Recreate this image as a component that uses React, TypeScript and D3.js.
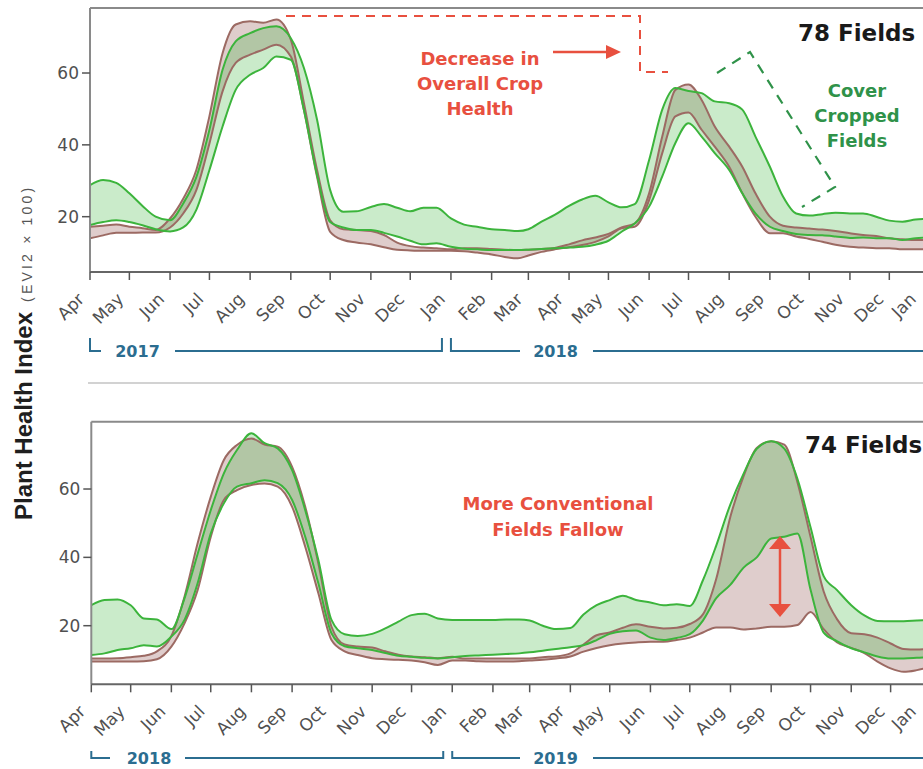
import React, { useEffect, useRef } from "react";
import * as d3 from "d3";

const W = 923;
const H = 769;

// EVI2 x 100, sampled on the 1st, 11th and 21st of each month (Apr -> Dec of the next year), then Jan 1
const topGreenUpper = [
  28.8, 30.2, 29.4, 26.5, 23, 20, 19, 23.7, 31, 44.2,
  60.9, 68.8, 71.1, 72.5, 73, 69.7, 61.4, 47, 27.4, 21.4,
  21.5, 22.7, 23.5, 22.5, 21.5, 22.5, 22.5, 19.5, 17.8, 17.2,
  16.5, 16.3, 16, 16.5, 18.6, 20.5, 23, 24.8, 25.8, 24,
  22.6, 23.5, 35.8, 49.8, 55.8, 55, 54.4, 52.1, 51.6, 49.8,
  42.3, 33.9, 25.6, 20.9, 20.3, 20.7, 21.1, 20.9, 20.9, 20,
  18.9, 18.6, 19.2, 19.5,
];
const topGreenLower = [
  17.7, 18.5, 19, 18.5, 17.6, 16.5, 15.9, 17, 21.9, 33,
  45.1, 55.3, 59.5, 61.4, 64.6, 63.7, 49.7, 31.6, 18.5, 17,
  16.3, 16.3, 15.5, 14.5, 13.3, 12.3, 12.6, 11.6, 11.1, 10.9,
  10.7, 10.7, 10.7, 10.8, 11, 11.2, 11.4, 11.6, 12.2, 13.3,
  15.8, 18.1, 22.8, 31.2, 40.5, 46, 42.3, 37.7, 33, 26.5,
  20.9, 17.2, 16, 15.2, 14.9, 14.8, 14.5, 14.1, 14.2, 14,
  14, 13.5, 14, 14.2,
];
const topBrownUpper = [
  17.2, 17.5, 17.8, 17.2, 16.8, 16.3, 19.5, 25, 33, 48,
  65.5, 73.5, 74.4, 74, 74.9, 69.3, 51.6, 33, 19, 16.5,
  16.3, 16, 14.9, 12.8, 11.8, 11.4, 11.2, 10.9, 11.2, 11.2,
  11, 10.8, 10.7, 10.8, 11, 11.3, 12.3, 13.4, 14.2, 15.2,
  17, 18.1, 26.5, 42.3, 55.3, 56.8, 52.5, 45.1, 39.5, 33.9,
  26.5, 20, 17.5, 17, 16.7, 16.4, 16, 15.4, 14.9, 14.6,
  14, 13.7, 13.5, 13.5,
];
const topBrownLower = [
  14, 14.8, 15.5, 15.5, 15.6, 15.6, 17, 20.9, 27.4, 40.4,
  54.9, 62.8, 65.1, 66.5, 67.9, 64.6, 49.7, 31.1, 15.8, 13.5,
  12.8, 12.3, 11.5, 10.8, 10.6, 10.5, 10.5, 10.5, 10.4, 10,
  9.5, 8.8, 8.4, 9.2, 10.2, 10.9, 11.5, 12.1, 13, 14.5,
  16.8, 17.2, 24.6, 37.7, 47.9, 49, 44.2, 39.5, 33.9, 26.5,
  20, 15.4, 15.4, 14.5, 13.8, 13, 12.2, 11.6, 11.4, 11.2,
  11.2, 10.9, 10.9, 10.9,
];

const bottomGreenUpper = [
  26, 27.5, 27.7, 26, 22.1, 21.8, 19, 28, 41, 53.8,
  64.6, 71.4, 76.3, 73.4, 71.9, 65.5, 53.8, 39.2, 21.7, 17.5,
  17, 17.6, 19.2, 21.2, 23.1, 23.5, 22.1, 21.7, 21.7, 21.7,
  21.7, 21.8, 21.8, 21.5, 20, 19, 19.3, 23.3, 26, 27.5,
  28.8, 27.5, 26.8, 26, 26.3, 25.8, 33.3, 43.3, 55.6, 64.5,
  71.8, 74, 71.8, 63, 48.8, 34.5, 30.5, 26, 23, 21.4,
  21.3, 21.3, 21.5, 21.7,
];
const bottomGreenLower = [
  11.4, 11.9, 12.9, 13.4, 14.3, 13.9, 16.8, 21.7, 32.4, 47,
  55.8, 60.7, 61.7, 62.6, 61.7, 56.8, 46, 32.4, 17.8, 14,
  13.4, 12.9, 12, 11.2, 10.9, 10.6, 10.4, 10.8, 11.1, 11.3,
  11.5, 11.7, 11.9, 12.2, 12.7, 13.2, 13.7, 14.3, 15.8, 17.6,
  18.4, 18.6, 16.5, 15.8, 16.4, 17.5, 21.5, 28, 32, 37,
  40, 45.5, 46, 47, 30.5, 18, 15.5, 13.4, 12.2, 11,
  10.4, 10.4, 10.6, 10.9,
];
const bottomBrownUpper = [
  10.4, 10.4, 10.5, 10.8, 11.2, 12.5, 17, 28.5, 44.1, 57.7,
  68.5, 72.9, 74.8, 73, 72.4, 66.5, 54.8, 38.2, 19.7, 14.5,
  13.9, 13.6, 12.5, 11.5, 11, 10.8, 10.5, 10.9, 10.4, 10.4,
  10.4, 10.4, 10.4, 10.4, 10.8, 11, 11.9, 14.5, 17.2, 18,
  19.4, 20.4, 19.7, 19.2, 19.4, 20.5, 23.3, 33.5, 52, 63.8,
  72, 74, 73, 62, 46, 30, 22, 17.8, 17.5, 16.5,
  14.8, 13.2, 13, 13.4,
];
const bottomBrownLower = [
  9.5, 9.5, 9.5, 9.5, 9.6, 10.2, 13.9, 20.7, 30.4, 46,
  56.8, 59.7, 61.2, 61.6, 60.7, 54.8, 43.1, 29.5, 15.8, 12.5,
  11.4, 10.5, 10.2, 10, 9.8, 9.3, 8.5, 9.8, 9.8, 9.6,
  9.5, 9.5, 9.6, 9.8, 10, 10.4, 11, 12.4, 13.5, 14.3,
  14.8, 15.1, 15.3, 15.3, 15.8, 16.5, 18, 19.5, 19.5, 18.9,
  19.2, 19.7, 19.7, 20.2, 24, 19, 15.2, 13.5, 12, 9.5,
  7.5, 6.5, 7, 8,
];

const yTicks = [20, 40, 60];

const GREEN = "#3cb43c";
const BROWN = "#9c6a63";
const RED = "#e8503f";
const DARK_GREEN = "#2f9249";
const BLUE = "#2b6d90";
const FONT = "'DejaVu Sans', sans-serif";

const panels = [
  {
    start: new Date(2017, 3, 1),
    xRange: [90, 930],
    top: 8,
    bottom: 272,
    yDomain: [4.6, 78.1],
    greenUpper: topGreenUpper,
    greenLower: topGreenLower,
    brownUpper: topBrownUpper,
    brownLower: topBrownLower,
    fields: "78 Fields",
    fieldsAt: [798, 41],
    years: ["2017", "2018"],
    yearY: 351,
    bracketH: 13,
    firstYear: { tail: 101, text: 137.5, line: 175 },
  },
  {
    start: new Date(2018, 3, 1),
    xRange: [91.3, 931.3],
    top: 421.7,
    bottom: 684.3,
    yDomain: [2.85, 79.7],
    greenUpper: bottomGreenUpper,
    greenLower: bottomGreenLower,
    brownUpper: bottomBrownUpper,
    brownLower: bottomBrownLower,
    fields: "74 Fields",
    fieldsAt: [805, 453],
    years: ["2018", "2019"],
    yearY: 758,
    bracketH: 7,
    firstYear: { tail: 110, text: 149, line: 185 },
  },
];

const sampleDates = (start) => {
  const end = d3.timeMonth.offset(start, 21);
  const dates = d3
    .timeMonth.range(start, end)
    .flatMap((m) => [0, 10, 20].map((d) => d3.timeDay.offset(m, d)));
  dates.push(end);
  return dates;
};

const addText = (g, lines, cx, baselines, color, size) => {
  lines.forEach((t, i) => {
    g.append("text")
      .attr("x", cx)
      .attr("y", baselines[i])
      .attr("text-anchor", "middle")
      .attr("font-family", FONT)
      .attr("font-weight", "bold")
      .attr("font-size", size)
      .attr("fill", color)
      .text(t);
  });
};

const App = () => {
  const svgRef = useRef(null);

  useEffect(() => {
    const svg = d3.select(svgRef.current);
    svg.selectAll("*").remove();
    const defs = svg.append("defs");

    panels.forEach((p, i) => {
      const end = d3.timeMonth.offset(p.start, 21);
      const x = d3.scaleTime().domain([p.start, end]).range(p.xRange);
      const y = d3.scaleLinear().domain(p.yDomain).range([p.bottom, p.top]);
      const dates = sampleDates(p.start);
      const left = p.xRange[0];

      defs
        .append("clipPath")
        .attr("id", `clip-${i}`)
        .append("rect")
        .attr("x", left)
        .attr("y", p.top)
        .attr("width", W - left)
        .attr("height", p.bottom - p.top);

      const g = svg.append("g").attr("clip-path", `url(#clip-${i})`);

      const band = (upper, lower) =>
        d3
          .area()
          .x((_, j) => x(dates[j]))
          .y0((_, j) => y(lower[j]))
          .y1((d) => y(d))
          .curve(d3.curveMonotoneX)(upper);

      const line = d3
        .line()
        .x((_, j) => x(dates[j]))
        .y((d) => y(d))
        .curve(d3.curveMonotoneX);

      // brown band first, green band over it -> olive where they overlap
      g.append("path")
        .attr("d", band(p.brownUpper, p.brownLower))
        .attr("fill", "rgba(150,90,85,0.3)");
      g.append("path")
        .attr("d", band(p.greenUpper, p.greenLower))
        .attr("fill", "rgba(60,180,60,0.27)");

      [p.brownUpper, p.brownLower].forEach((s) =>
        g.append("path")
          .attr("d", line(s))
          .attr("fill", "none")
          .attr("stroke", BROWN)
          .attr("stroke-width", 2)
      );
      [p.greenUpper, p.greenLower].forEach((s) =>
        g.append("path")
          .attr("d", line(s))
          .attr("fill", "none")
          .attr("stroke", GREEN)
          .attr("stroke-width", 2)
      );

      // frame
      svg.append("line")
        .attr("x1", left).attr("x2", W).attr("y1", p.top).attr("y2", p.top)
        .attr("stroke", "#8a8a8a").attr("stroke-width", 2);
      svg.append("line")
        .attr("x1", left).attr("x2", left).attr("y1", p.top).attr("y2", p.bottom)
        .attr("stroke", "#8a8a8a").attr("stroke-width", 2);
      svg.append("line")
        .attr("x1", left).attr("x2", W).attr("y1", p.bottom).attr("y2", p.bottom)
        .attr("stroke", "#666").attr("stroke-width", 2);

      // x axis: monthly ticks, rotated labels
      const months = d3
        .timeMonth.range(p.start, d3.timeMonth.offset(p.start, 22))
        .filter((m) => x(m) <= W + 12);
      const xa = svg.append("g");
      months.forEach((m) => {
        const tx = x(m);
        xa.append("line")
          .attr("x1", tx).attr("x2", tx)
          .attr("y1", p.bottom).attr("y2", p.bottom + 8)
          .attr("stroke", "#555").attr("stroke-width", 1.5);
        xa.append("text")
          .attr("transform", `translate(${Math.min(tx - 9, W - 10)},${p.bottom + 24}) rotate(-45)`)
          .attr("text-anchor", "end")
          .attr("dy", "0.35em")
          .attr("font-family", FONT)
          .attr("font-size", 17)
          .attr("fill", "#505050")
          .text(d3.timeFormat("%b")(m));
      });

      // y axis
      const ya = svg.append("g");
      yTicks.forEach((v) => {
        ya.append("line")
          .attr("x1", left - 8).attr("x2", left)
          .attr("y1", y(v)).attr("y2", y(v))
          .attr("stroke", "#555").attr("stroke-width", 1.5);
        ya.append("text")
          .attr("x", left - 11)
          .attr("y", y(v))
          .attr("dy", "0.35em")
          .attr("text-anchor", "end")
          .attr("font-family", FONT)
          .attr("font-size", 17)
          .attr("fill", "#505050")
          .text(v);
      });

      // year brackets
      const yb = svg.append("g").attr("stroke", BLUE).attr("stroke-width", 2).attr("fill", "none");
      const jan = x(d3.timeYear.ceil(p.start));
      const yy = p.yearY;
      yb.append("path").attr("d", `M${left},${yy - p.bracketH}V${yy}H${p.firstYear.tail}`);
      yb.append("path").attr("d", `M${p.firstYear.line},${yy}H${jan - 9}V${yy - p.bracketH}`);
      yb.append("path").attr("d", `M${jan},${yy - p.bracketH}V${yy}H520`);
      yb.append("path").attr("d", `M593,${yy}H${W}`);
      [p.firstYear.text, 555.5].forEach((cx, k) => {
        svg.append("text")
          .attr("x", cx)
          .attr("y", yy)
          .attr("dy", "0.36em")
          .attr("text-anchor", "middle")
          .attr("font-family", FONT)
          .attr("font-weight", "bold")
          .attr("font-size", 16)
          .attr("fill", BLUE)
          .text(p.years[k]);
      });

      svg.append("text")
        .attr("x", p.fieldsAt[0])
        .attr("y", p.fieldsAt[1])
        .attr("font-family", FONT)
        .attr("font-weight", "bold")
        .attr("font-size", 23)
        .attr("fill", "#1a1a1a")
        .text(p.fields);
    });

    // separator between the two panels
    svg.append("line")
      .attr("x1", 88).attr("x2", W).attr("y1", 383).attr("y2", 383)
      .attr("stroke", "#d2d2d2").attr("stroke-width", 2);

    // top panel annotations
    const ann = svg.append("g");
    ann.append("path")
      .attr("d", "M286,16H640V72H668")
      .attr("fill", "none").attr("stroke", RED).attr("stroke-width", 2)
      .attr("stroke-dasharray", "9 7");
    addText(ann, ["Decrease in", "Overall Crop", "Health"], 480, [65, 90, 115], RED, 18);
    ann.append("line")
      .attr("x1", 553).attr("x2", 608).attr("y1", 52).attr("y2", 52)
      .attr("stroke", RED).attr("stroke-width", 2.5);
    ann.append("path").attr("d", "M621,52L606,45L606,59Z").attr("fill", RED);

    ann.append("path")
      .attr("d", "M717,73L750,52L835,187L802,207")
      .attr("fill", "none").attr("stroke", DARK_GREEN).attr("stroke-width", 2.2)
      .attr("stroke-dasharray", "10 8");
    addText(ann, ["Cover", "Cropped", "Fields"], 857, [97, 122, 147], DARK_GREEN, 18);

    // bottom panel annotations
    addText(ann, ["More Conventional", "Fields Fallow"], 558, [510, 536], RED, 18);
    ann.append("line")
      .attr("x1", 780).attr("x2", 780).attr("y1", 546).attr("y2", 607)
      .attr("stroke", RED).attr("stroke-width", 2.5);
    ann.append("path").attr("d", "M780,536L769,549L791,549Z").attr("fill", RED);
    ann.append("path").attr("d", "M780,617L769,604L791,604Z").attr("fill", RED);

    // y axis title
    const title = svg.append("text")
      .attr("transform", "translate(32,520) rotate(-90)")
      .attr("font-family", "'Liberation Sans', Arial, sans-serif");
    title.append("tspan")
      .attr("font-weight", "bold")
      .attr("font-size", 24)
      .attr("fill", "#1f1f1f")
      .text("Plant Health Index");
    title.append("tspan")
      .attr("dx", 10)
      .attr("font-size", 14)
      .attr("letter-spacing", 3.2)
      .attr("fill", "#555")
      .text("(EVI2 × 100)");
  }, []);

  return (
    <div style={{ position: "absolute", left: 0, top: 0, background: "#fff" }}>
      <svg ref={svgRef} width={W} height={H} style={{ display: "block" }}></svg>
    </div>
  );
};

export default App;
